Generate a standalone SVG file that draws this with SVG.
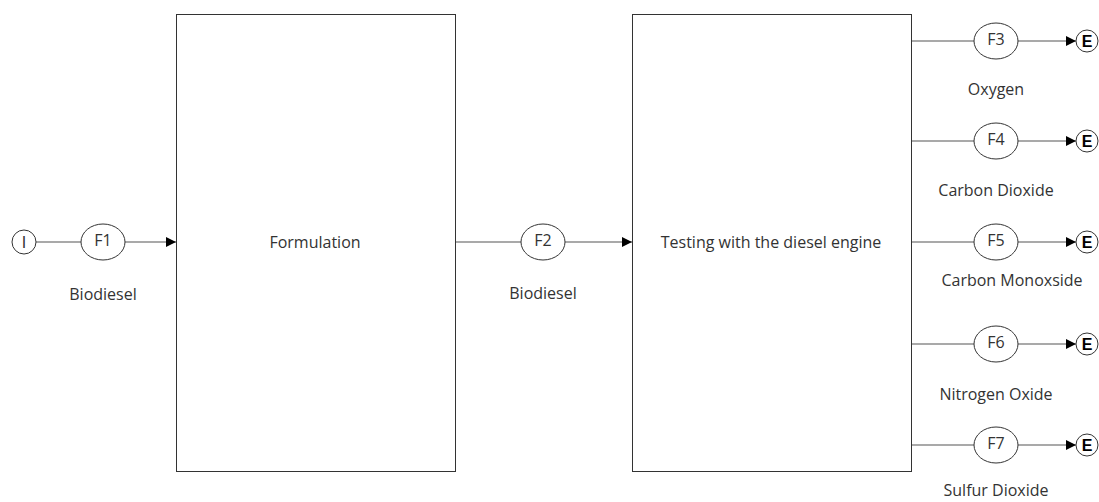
<svg xmlns="http://www.w3.org/2000/svg" width="1099" height="502" viewBox="0 0 1099 502">
<style>
.box{fill:#fff;stroke:#333;stroke-width:1}
.ell{fill:#fff;stroke:#333;stroke-width:1}
.ln{stroke:#555;stroke-width:1.2;fill:none}
.t{font-family:"Open Sans","Noto Sans",sans-serif;font-size:16px;fill:#333;text-anchor:middle;dominant-baseline:central}
.tb{font-family:"Liberation Sans",Arial,sans-serif;font-size:16px;font-weight:bold;fill:#000;text-anchor:middle;dominant-baseline:central}
.ti{font-family:"Liberation Sans",Arial,sans-serif;font-size:16px;fill:#333;text-anchor:middle;dominant-baseline:central}
</style>
<defs>
<marker id="arr" markerWidth="10" markerHeight="10" refX="10" refY="5" orient="auto" markerUnits="userSpaceOnUse">
<path d="M0,0 L10,5 L0,10 z" fill="#000"/>
</marker>
</defs>
<rect width="1099" height="502" fill="#fff"/>
<g id="connectors">
<line class="ln" x1="36" y1="242" x2="81" y2="242"/>
<line class="ln" x1="125" y1="242" x2="176" y2="242" marker-end="url(#arr)"/>
<line class="ln" x1="455" y1="242" x2="521" y2="242"/>
<line class="ln" x1="565" y1="242" x2="632" y2="242" marker-end="url(#arr)"/>
<line class="ln" x1="911" y1="41" x2="974" y2="41"/>
<line class="ln" x1="1018" y1="41" x2="1076" y2="41" marker-end="url(#arr)"/>
<line class="ln" x1="911" y1="141" x2="974" y2="141"/>
<line class="ln" x1="1018" y1="141" x2="1076" y2="141" marker-end="url(#arr)"/>
<line class="ln" x1="911" y1="242" x2="974" y2="242"/>
<line class="ln" x1="1018" y1="242" x2="1076" y2="242" marker-end="url(#arr)"/>
<line class="ln" x1="911" y1="344" x2="974" y2="344"/>
<line class="ln" x1="1018" y1="344" x2="1076" y2="344" marker-end="url(#arr)"/>
<line class="ln" x1="911" y1="445" x2="974" y2="445"/>
<line class="ln" x1="1018" y1="445" x2="1076" y2="445" marker-end="url(#arr)"/>
</g>
<g id="I"><circle class="ell" cx="24" cy="242" r="12"/><text class="ti" x="24" y="242">I</text></g>
<g id="F1"><ellipse class="ell" cx="103" cy="242" rx="22" ry="18"/><text class="t" x="103" y="240">F1</text><text class="t" x="103" y="294">Biodiesel</text></g>
<g id="formulation"><rect class="box" x="176.5" y="14.5" width="279" height="457"/><text class="t" x="315" y="242">Formulation</text></g>
<g id="F2"><ellipse class="ell" cx="543" cy="242" rx="22" ry="18"/><text class="t" x="543" y="240">F2</text><text class="t" x="543" y="293">Biodiesel</text></g>
<g id="testing"><rect class="box" x="632.5" y="14.5" width="279" height="457"/><text class="t" x="771" y="242">Testing with the diesel engine</text></g>
<g id="F3"><ellipse class="ell" cx="996" cy="41" rx="22" ry="18"/><text class="t" x="996" y="39">F3</text><text class="t" x="996" y="89">Oxygen</text></g>
<g id="F4"><ellipse class="ell" cx="996" cy="141" rx="22" ry="18"/><text class="t" x="996" y="139">F4</text><text class="t" x="996" y="190">Carbon Dioxide</text></g>
<g id="F5"><ellipse class="ell" cx="996" cy="242" rx="22" ry="18"/><text class="t" x="996" y="240">F5</text><text class="t" x="1012" y="280">Carbon Monoxside</text></g>
<g id="F6"><ellipse class="ell" cx="996" cy="344" rx="22" ry="18"/><text class="t" x="996" y="342">F6</text><text class="t" x="996" y="394">Nitrogen Oxide</text></g>
<g id="F7"><ellipse class="ell" cx="996" cy="445" rx="22" ry="18"/><text class="t" x="996" y="443">F7</text><text class="t" x="996" y="490">Sulfur Dioxide</text></g>
<g id="E3"><circle class="ell" cx="1087" cy="41" r="11"/><text class="tb" x="1087" y="41">E</text></g>
<g id="E4"><circle class="ell" cx="1087" cy="141" r="11"/><text class="tb" x="1087" y="141">E</text></g>
<g id="E5"><circle class="ell" cx="1087" cy="242" r="11"/><text class="tb" x="1087" y="242">E</text></g>
<g id="E6"><circle class="ell" cx="1087" cy="344" r="11"/><text class="tb" x="1087" y="344">E</text></g>
<g id="E7"><circle class="ell" cx="1087" cy="445" r="11"/><text class="tb" x="1087" y="445">E</text></g>
</svg>
